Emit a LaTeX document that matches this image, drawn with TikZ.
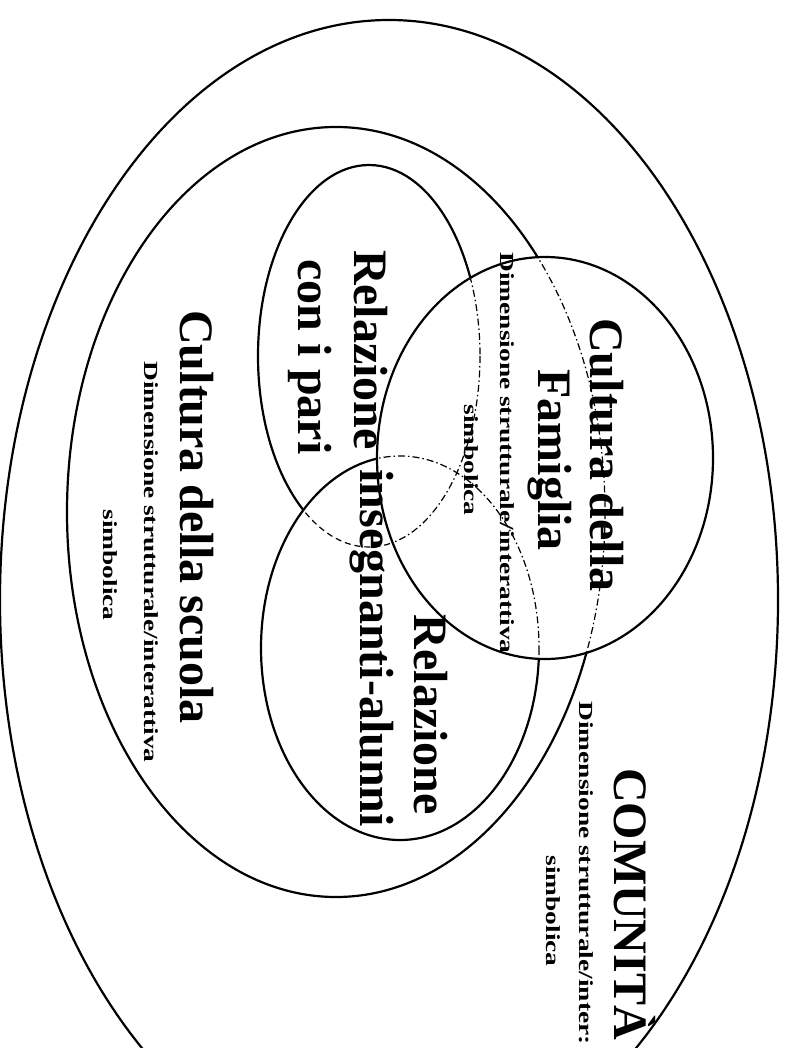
\documentclass[tikz,border=0pt]{standalone}
\usepackage{fontspec}
\setmainfont{Liberation Serif}

% shapes of the diagram (image coordinates, y downwards)
\newcommand{\comunitapath}{(389,600) ellipse [x radius=389, y radius=580]}
\newcommand{\scuolapath}{(336,512) ellipse [x radius=269, y radius=385]}
\newcommand{\paripath}{(369,356) ellipse [x radius=111, y radius=191]}
\newcommand{\inspath}{(400,648) ellipse [x radius=139, y radius=192]}
\newcommand{\fampath}{(545,458) ellipse [x radius=168, y radius=201]}
\newcommand{\widetxt}[1]{\scalebox{1.37}[1]{#1}}

\begin{document}
\begin{tikzpicture}[
  x=1pt, y=-1pt,
  ring/.style={line width=2.2pt},
  hidden/.style={line width=1.2pt,dash pattern=on 7pt off 3pt on 1.5pt off 3pt},
  behind/.style={line width=1.2pt,dash pattern=on 6pt off 4pt},
  bigtxt/.style={font=\fontsize{48}{54}\selectfont\bfseries,rotate=-90,anchor=base,inner sep=0pt},
  smalltxt/.style={font=\fontsize{20}{24}\selectfont\bfseries,rotate=-90,anchor=base,inner sep=0pt}
]
\useasboundingbox (0,0) rectangle (786,1048);
\clip (0,0) rectangle (786,1048);

% Ellipses
\draw[ring] \comunitapath;
\draw[ring] \scuolapath;
\draw[ring] \paripath;
\fill[white] \inspath;
\begin{scope}
  \clip \inspath;
  \draw[behind] \paripath;
\end{scope}
\draw[ring] \inspath;
\fill[white] \fampath;
\begin{scope}
  \clip \fampath;
  \draw[hidden] \scuolapath;
  \draw[hidden] \paripath;
  \draw[hidden] \inspath;
\end{scope}
\draw[ring] \fampath;

% Famiglia
\node[bigtxt] (famA) at (590,455) {Cultura della};
\node[bigtxt] (famB) at (538,460) {Famiglia};
\node[smalltxt] (famC) at (500,453) {\widetxt{Dimensione strutturale/interattiva}};
\node[smalltxt] (famD) at (464,460) {\widetxt{simbolica}};

% Relazione con i pari
\node[bigtxt] (pariA) at (354,350) {Relazione};
\node[bigtxt] (pariB) at (298,357) {con i pari};

% Relazione insegnanti-alunni
\node[bigtxt,anchor=base east] (insA) at (414,815) {Relazione};
\node[bigtxt,anchor=base east] (insB) at (360,827) {insegnanti-alunni};

% Cultura della scuola
\node[bigtxt] (scuolaA) at (180,517) {Cultura della scuola};
\node[smalltxt] (scuolaB) at (144,562) {\widetxt{Dimensione strutturale/interattiva}};
\node[smalltxt] (scuolaC) at (103,565) {\widetxt{simbolica}};

% Comunita
\node[bigtxt,font=\fontsize{48}{54}\selectfont\bfseries] (comA) at (614,904) {COMUNITÀ};
\node[smalltxt] (comB) at (579,873) {\widetxt{Dimensione strutturale/inter:}};
\node[smalltxt] (comC) at (546,911) {\widetxt{simbolica}};

\end{tikzpicture}
\end{document}
